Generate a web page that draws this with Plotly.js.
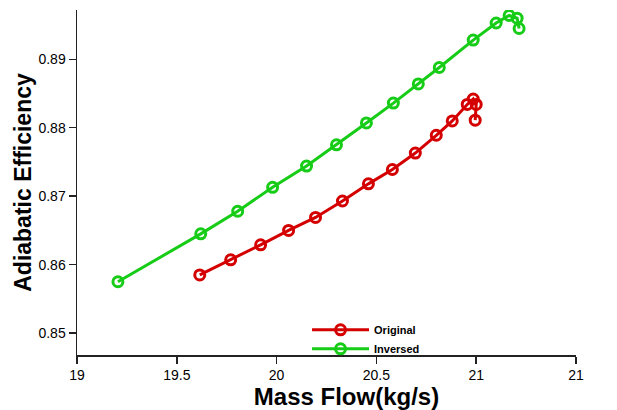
<!DOCTYPE html>
<html>
<head>
<meta charset="utf-8">
<script src="https://cdn.plot.ly/plotly-3.0.1.min.js"></script>
<style>html,body{margin:0;padding:0;background:#fff;}#chart{width:617px;height:410px;}</style>
</head>
<body>
<div id="chart"></div>
<script>
// Data
var originalFlow = [19.615, 19.77, 19.92, 20.06, 20.195, 20.33, 20.46, 20.58, 20.695, 20.80, 20.88, 20.955, 20.985, 21.0, 20.995];
var originalEff  = [0.8585, 0.8607, 0.8629, 0.8650, 0.8669, 0.8693, 0.8718, 0.8739, 0.8763, 0.8789, 0.8810, 0.8834, 0.8842, 0.8834, 0.8811];
var inversedFlow = [19.205, 19.62, 19.805, 19.98, 20.15, 20.30, 20.45, 20.585, 20.71, 20.815, 20.985, 21.10, 21.165, 21.205, 21.215];
var inversedEff  = [0.8575, 0.8645, 0.8678, 0.8713, 0.8744, 0.8775, 0.8807, 0.8836, 0.8864, 0.8888, 0.8928, 0.8953, 0.8964, 0.8960, 0.8945];
var xTickVals = [19, 19.5, 20, 20.5, 21, 21.5];
var xTickText = ["19", "19.5", "20", "20.5", "21", "21"];
var yTickVals = [0.85, 0.86, 0.87, 0.88, 0.89];
var yTickText = ["0.85", "0.86", "0.87", "0.88", "0.89"];

var red = "#d40000", green = "#17cc17";
var traces = [
  {x: originalFlow, y: originalEff, name: "Original", type: "scatter", mode: "lines+markers",
   line: {color: red, width: 3}, marker: {symbol: "circle-open", size: 10, color: red, line: {width: 3, color: red}}},
  {x: inversedFlow, y: inversedEff, name: "Inversed", type: "scatter", mode: "lines+markers",
   line: {color: green, width: 3}, marker: {symbol: "circle-open", size: 10, color: green, line: {width: 3, color: green}}}
];
var layout = {
  width: 617, height: 410,
  margin: {l: 77, r: 41, t: 10, b: 55},
  paper_bgcolor: "#fff", plot_bgcolor: "#fff",
  font: {family: "Liberation Sans, Arial, sans-serif", color: "#000"},
  showlegend: true,
  legend: {x: 0.461, y: 0.115, xanchor: "left", yanchor: "top", bgcolor: "rgba(0,0,0,0)",
           font: {size: 11, family: "Liberation Sans, Arial, sans-serif", weight: "bold"}, tracegroupgap: 0, itemwidth: 57},
  xaxis: {range: [19, 21.5], tickvals: xTickVals, ticktext: xTickText, showgrid: false, zeroline: false,
          showline: true, linecolor: "#222", linewidth: 1.5, ticks: "outside", ticklen: 7, tickwidth: 1.5, tickcolor: "#222",
          tickfont: {size: 14},
          title: {text: "<b>&nbsp;&nbsp;&nbsp;&nbsp;&nbsp;&nbsp;Mass Flow(kg/s)</b>", font: {size: 24}, standoff: 0}},
  yaxis: {range: [0.8468, 0.8972], tickvals: yTickVals, ticktext: yTickText, showgrid: false, zeroline: false,
          showline: true, linecolor: "#222", linewidth: 1.5, ticks: "outside", ticklen: 7, tickwidth: 1.5, tickcolor: "#222",
          tickfont: {size: 14}, title: {text: "<b>Adiabatic Efficiency</b>", font: {size: 23}, standoff: 0}}
};
Plotly.newPlot("chart", traces, layout, {displayModeBar: false, staticPlot: true});
</script>
</body>
</html>
